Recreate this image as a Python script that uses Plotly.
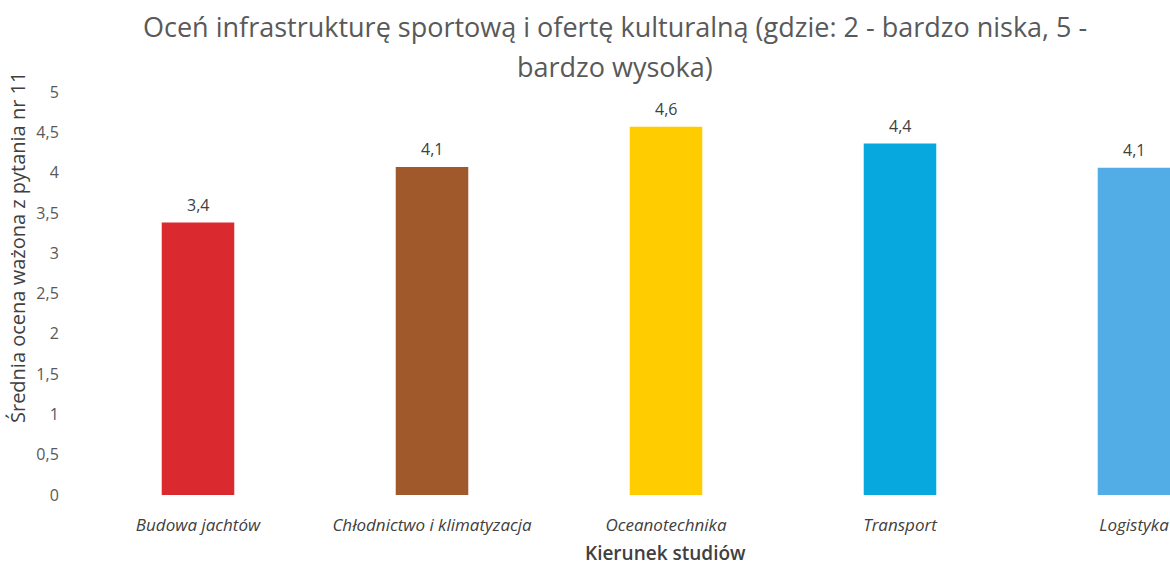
import plotly.graph_objects as go

categories = ["Budowa jachtów", "Chłodnictwo i klimatyzacja", "Oceanotechnika", "Transport", "Logistyka"]
values = [3.38, 4.07, 4.57, 4.36, 4.06]
colors = ["#DA2A30", "#A0592B", "#FFCC00", "#06A8DE", "#52ADE6"]
y_ticks = [0, 0.5, 1, 1.5, 2, 2.5, 3, 3.5, 4, 4.5, 5]

title_lines = ["Oceń infrastrukturę sportową i ofertę kulturalną (gdzie: 2 - bardzo niska, 5 -",
               "bardzo wysoka)"]
y_title = "Średnia ocena ważona z pytania nr 11"
x_title = "Kierunek studiów"

FONT = "Open Sans, Lato, sans-serif"

xs = list(range(len(categories)))
fig = go.Figure(go.Bar(
    x=xs,
    y=values,
    marker=dict(color=colors, line=dict(width=0)),
    width=0.31,
    cliponaxis=False,
))

W, H = 1170, 569
L, R, T, B = 81, 0, 92, 74
plot_w = W - L - R
plot_h = H - T - B


def px_x(p):
    return (p - L) / plot_w


def px_y(p):
    return (H - B - p) / plot_h


annotations = []
# data labels above bars
for xi, v in zip(xs, values):
    annotations.append(dict(
        x=xi, y=v, xref="x", yref="y", text=f"{v:.1f}".replace(".", ","),
        showarrow=False, yanchor="middle", yshift=18,
        font=dict(family=FONT, size=16, color="#404040")))

# title lines
for text, cy in zip(title_lines, [27, 66]):
    annotations.append(dict(
        text=text, xref="paper", yref="paper", x=px_x(615), y=px_y(cy),
        xanchor="center", yanchor="middle", showarrow=False,
        font=dict(family=FONT, size=27, color="#595959")))

annotations += [
    dict(text=y_title, textangle=-90, xref="paper", yref="paper",
         x=px_x(17), y=px_y(248),
         xanchor="center", yanchor="middle", showarrow=False,
         font=dict(family=FONT, size=20, color="#404040")),
    dict(text=x_title, xref="paper", yref="paper",
         x=px_x(665), y=px_y(553),
         xanchor="center", yanchor="middle", showarrow=False,
         font=dict(family=FONT, size=19, color="#404040", weight=600)),
]

fig.update_layout(
    width=W, height=H,
    margin=dict(l=L, r=R, t=T, b=B),
    paper_bgcolor="white", plot_bgcolor="white",
    separators=", ",
    showlegend=False,
    xaxis=dict(
        tickmode="array",
        tickvals=xs,
        ticktext=["<i>" + c + "</i>" for c in categories],
        range=[-0.5, 4.5 - (1251 - W) / 234],
        showgrid=False, zeroline=False, showline=False,
        tickfont=dict(family=FONT, size=17, color="#404040"),
        ticks="outside", ticklen=15, tickcolor="rgba(0,0,0,0)",
    ),
    yaxis=dict(
        range=[0, 5],
        tickvals=y_ticks,
        showgrid=False, zeroline=False, showline=False,
        tickfont=dict(family=FONT, size=16, color="#595959"),
        ticks="outside", ticklen=18, tickcolor="rgba(0,0,0,0)",
    ),
    annotations=annotations,
)

fig.write_html("out.html", config={"displayModeBar": False},
               post_script="document.body.style.margin='0';document.body.style.overflow='hidden';")
